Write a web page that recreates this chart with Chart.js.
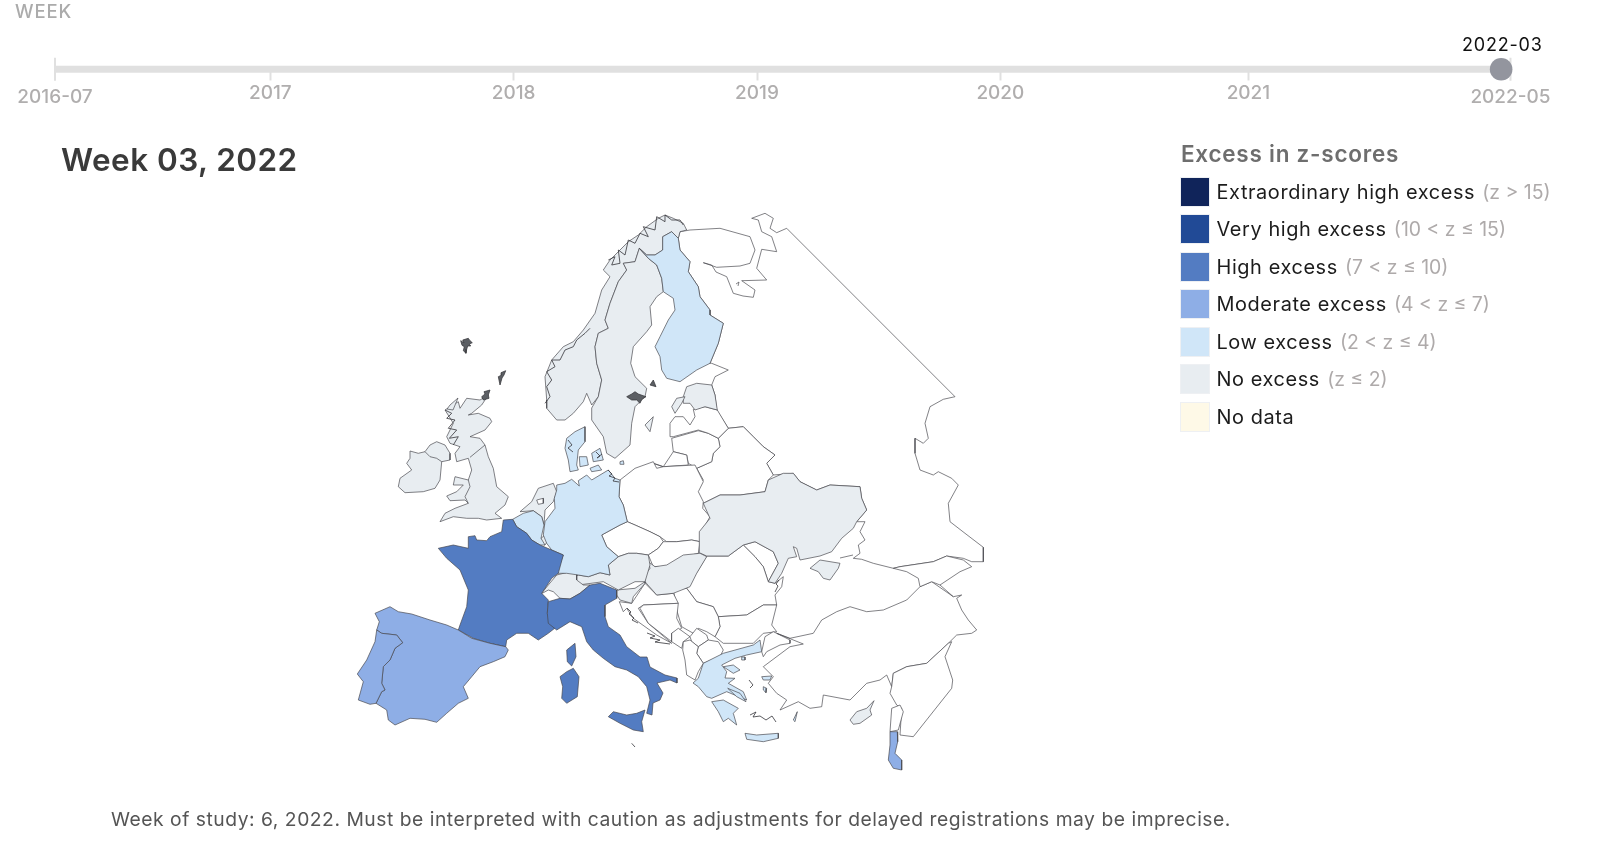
<!DOCTYPE html>
<html><head><meta charset="utf-8">
<script src="https://cdn.jsdelivr.net/npm/chart.js@4"></script>
<style>
html,body{margin:0;padding:0;background:#fff;width:1615px;height:844px;overflow:hidden;font-family:Inter,"Open Sans",sans-serif}
canvas{position:absolute;left:0;top:0}
.t{position:absolute;white-space:nowrap;line-height:1}
#legend .sw{position:absolute;left:1181px;width:28px;height:28px;outline:1px solid #eef0f3}
#legend .tx{position:absolute;left:1216.5px;white-space:nowrap;font-size:19.9px;letter-spacing:.6px;line-height:28px;color:#1c1c1c}
#legend .tx span{color:#aeaaaa;margin-left:1px;letter-spacing:0;font-size:19.4px}
</style></head><body>
<canvas id="slider" width="1615" height="120"></canvas>
<canvas id="map" width="1615" height="844"></canvas>
<div class="t" style="left:15px;top:2px;font-size:18.5px;letter-spacing:.9px;color:#ababab;font-weight:500">WEEK</div>
<div class="t" id="cur" style="left:1462px;top:36px;font-size:18px;letter-spacing:.8px;color:#111">2022-03</div>
<div class="t" id="title" style="left:61px;top:144px;font-size:31.5px;letter-spacing:.45px;font-weight:600;color:#3a3a3a">Week 03, 2022</div>
<div class="t" style="left:1181px;top:143px;font-size:22.5px;letter-spacing:.75px;font-weight:600;color:#6e6e6e" id="lt">Excess in z-scores</div>
<div id="legend"></div>
<div class="t" id="foot" style="left:111px;top:810px;font-size:19.3px;letter-spacing:.52px;color:#555">Week of study: 6, 2022. Must be interpreted with caution as adjustments for delayed registrations may be imprecise.</div>
<script>
/* ---------- slider data (week index since 2016-07) ---------- */
const yearWeeks  = [46, 98, 150, 202, 255];
const yearLabels = ['2017','2018','2019','2020','2021'];
const endWeeks   = [0, 311];
const endLabels  = ['2016-07','2022-05'];
const currentWeek = 309;

/* ---------- legend ---------- */
const legendNames  = ['Extraordinary high excess','Very high excess','High excess','Moderate excess','Low excess','No excess','No data'];
const legendRanges = ['(z > 15)','(10 < z ≤ 15)','(7 < z ≤ 10)','(4 < z ≤ 7)','(2 < z ≤ 4)','(z ≤ 2)',''];
const legendColors = ['#10245a','#214a96','#537cc2','#8eaee6','#d0e6f8','#e8edf1','#fef9e7'];
const legendTops   = [178,215,253,290,327.5,364.5,402.5];

/* ---------- map outlines, projected map units ---------- */
const russia=[[690,230],[720,228.3],[750,236.7],[755,250],[750,263.3],[740,266],[716.7,267.3],[703.3,262.7],[711.7,265],[716,272],[726.7,276.7],[733.3,293.3],[743,296],[753.3,297.3],[755,290],[741.7,280.7],[766.7,280],[756.7,268.3],[761.7,249.3],[776.7,251.7],[771.7,236.7],[761.7,231.7],[758.3,220],[751.7,218.3],[765,213.3],[773.3,218.3],[770,228.3],[776.7,232.7],[786.7,228.3],[955,396.7],[943.3,399.3],[930,406.7],[925,423.3],[928.3,438.3],[923.3,443.3],[915,438.3],[915,453.3],[920,470],[933.3,475],[938.3,471.7],[951.7,478.3],[958.3,485],[948.3,503.3],[950,521.7],[965,533.3],[983.3,547.3],[983.3,561.7],[971.7,561.7],[963.3,558.3],[946.7,556],[933.3,561.7],[900,566.7],[893.3,568.3],[873.3,563.3],[861.7,559.3],[853.3,558.3],[860,553.3],[858.3,545],[865,540],[860,531.7],[865,521.7],[856.7,521.7],[866.7,510],[861.7,498.3],[860,486.7],[830,485],[816.7,490],[800,481.7],[793.3,473.3],[773.3,475],[766.7,463.3],[775,455],[763.3,446.7],[753.3,436.7],[743.3,426.7],[728.3,428.3],[716.7,410],[715,395],[711.7,385],[715,376.7],[728.3,370],[711.7,363.3],[710,363.3],[718.3,343.3],[723.3,323.3],[710,315],[710,310],[700,296.7],[698.3,286.7],[688.3,271.7],[690,261.7],[680,250],[678.3,238.3],[680,231.7]];
const finland=[[639.3,248.3],[646.7,255],[655,255],[662.7,250],[662.7,236.7],[671.7,231.7],[678.3,238.3],[680,250],[690,261.7],[688.3,271.7],[698.3,286.7],[700,296.7],[710,310],[710,315],[723.3,323.3],[718.3,343.3],[710,363.3],[696.7,370],[680,381.7],[666.7,378.3],[661.7,370],[660,356.7],[655,346.7],[660,336.7],[668.3,320],[675,310],[673.3,298.3],[663.3,291.7],[661.7,278.3],[656.7,265],[648.3,258.3]];
const sweden=[[591.7,408],[598.3,396.7],[601.7,380],[596.7,363.3],[595,346.7],[598.3,333.3],[608.3,328.3],[605,320],[610,303.3],[618.3,281.7],[626.7,270],[623.3,263.3],[635,261.7],[639.3,248.3],[648.3,258.3],[656.7,265],[661.7,278.3],[663.3,291.7],[656.7,296.7],[650,306.7],[651.7,325],[646.7,331.7],[633.3,346.7],[630.7,363.3],[635,376.7],[646.7,388.3],[645,396.7],[635,406.7],[631.7,423.3],[630,445],[615,458.3],[606.7,453.3],[603.3,436.7],[591.7,420]];
const norway=[[546.7,408.3],[556.7,420],[565,420],[573.3,413.3],[583.3,401.7],[586.7,393.3],[591.7,405],[598.3,396.7],[601.7,380],[596.7,363.3],[595,346.7],[598.3,333.3],[608.3,328.3],[605,320],[610,303.3],[618.3,281.7],[626.7,270],[623.3,263.3],[635,261.7],[639.3,248.3],[646.7,255],[655,255],[662.7,250],[662.7,236.7],[671.7,231.7],[678.3,238.3],[680,231.7],[686.7,230],[683.3,223.3],[673.3,218.3],[665,215],[658.3,218.3],[646.7,226.7],[638.3,235],[628.3,241.7],[620,250],[610,260],[603.3,270],[610,276.7],[601.7,290],[595,313.3],[583.3,330],[573.3,341.7],[563.3,346.7],[551.7,360],[545,376.7],[546.7,400]];
const gotland=[[645,425],[653.3,416.7],[650,431.7]];
const denmarkJutland=[[566.7,438.3],[575,431.7],[585,426.7],[585,441.7],[578.3,450],[576.7,465],[578.3,470],[570,471.7],[568.3,460],[565,448.3]];
const denmarkZealand=[[591.7,453.3],[600,448.3],[603.3,460],[593.3,461.7]];
const denmarkFunen=[[579.3,456.7],[586.7,456.7],[588.3,465],[580,466.7]];
const denmarkLolland=[[590,468.3],[598.3,465],[601.7,470],[591.7,471.7]];
const bornholm=[[620,461.7],[623.3,460.7],[624,464.3],[620.7,464.3]];
const germany=[[556.7,485],[565,483.3],[571.7,479.3],[579.3,486],[578.3,480.7],[586.7,475],[591.7,480],[600,475],[608.3,470],[615,478.3],[620,480],[619,496.7],[623.3,505],[627.3,521.7],[620,525],[601.7,535],[606.7,546.7],[618.3,556.7],[608.3,565],[610,575],[600,572.7],[588.3,576.7],[578.3,575],[566.7,573.3],[556.7,573.3],[563.3,555],[551.7,550],[546.7,543.3],[543.3,535],[545,521.7],[555,508.3],[554.3,498.3],[556.7,490]];
const france=[[503.3,520],[512.7,519.3],[516.7,526.7],[526.7,533.3],[531.7,540],[540,545],[550,549.3],[563.3,555],[558.3,573.3],[551.7,578.3],[541.7,593.3],[548.3,600],[547.3,613.3],[556.7,626.7],[548.3,633.3],[538.3,640],[528.3,633.3],[516.7,633.3],[506.7,640],[505.7,646.7],[490,643.3],[473.3,638.3],[458.3,630],[460,625],[466.7,606.7],[468.3,590],[460,570],[446.7,558.3],[438.3,548.3],[453.3,545],[468.3,548.3],[468.3,536.7],[475,535.7],[476.7,540],[486.7,540.7],[490,536.7],[501.7,531.7]];
const spain=[[375,613.3],[390,606.7],[398.3,611.7],[411.7,614],[430,620],[446.7,625],[458.3,630],[471.7,638.3],[490,643.3],[505.7,646.7],[508.3,650],[505,656.7],[493.3,661.7],[480,666.7],[471.7,676.7],[463.3,686.7],[468.3,698.3],[458.3,703.3],[446.7,713.3],[436.7,722.3],[425,719.3],[410,718.3],[395,725],[388.3,720],[386.7,710],[376,703.3],[381.7,691.7],[385,690],[381.7,683.3],[383.3,666.7],[390,660],[395,648.3],[402.7,642.7],[396.7,635],[381.7,633.3],[376.7,630],[379.3,621.7]];
const portugal=[[376.7,630],[381.7,633.3],[396.7,635],[402.7,642.7],[395,648.3],[390,660],[383.3,666.7],[381.7,683.3],[385,690],[381.7,691.7],[376,703.3],[370,704.3],[358.3,700],[363.3,681.7],[357.3,674],[366.7,660],[375,641.7]];
const italy=[[548.3,601.7],[560,598.3],[570,599],[580,593.3],[590,585],[600,583.3],[616.7,590],[616.7,598.3],[605,605],[605,616.7],[608.3,626.7],[620,635],[626.7,646.7],[640,657],[647,657],[650,667],[665,675],[677,678],[677,683],[670,680],[657,683],[663,693],[660,700],[653,703],[652,715],[646.7,713.3],[650,700],[646.7,686.7],[638.3,676.7],[626.7,670],[615,666.7],[603.3,658.3],[593.3,650],[586.7,641.7],[581.7,626.7],[570,621.7],[556.7,630],[548.3,623.3],[547.3,613.3]];
const sicily=[[608.3,716.7],[613.3,711.7],[626.7,715],[636.7,713.3],[645,710],[641.7,721.7],[643.3,731.7],[633.3,730],[620,723.3]];
const sardinia=[[560,676.7],[566.7,671.7],[573.3,668.3],[579,676.7],[577.3,696.7],[566.7,703.3],[561.7,698.3],[562.7,686.7]];
const corsica=[[566.7,650],[575,643.3],[576,656.7],[571.7,666],[567.3,661.7]];
const belgium=[[512.7,519.3],[523.3,513.3],[533.3,510.7],[541.7,516.7],[544,525],[541,538.3],[545,545],[540,545],[531.7,540],[526.7,533.3],[516.7,526.7]];
const luxembourg=[[541,538.3],[545,535],[547.3,541.7],[545,545],[541,543.3]];
const netherlands=[[520,511.7],[531.7,501.7],[538.3,488.3],[553.3,483.3],[556.7,491.7],[553.3,501.7],[545,510],[544,525],[541.7,516.7],[533.3,510.7]];
const ijsselmeer=[[536.7,500],[543.3,498.3],[543.3,503.3],[538.3,504.3]];
const britain=[[466.7,398.3],[480,400],[488.3,395],[481.7,405],[471.7,413.3],[468.3,415],[478.3,413.3],[490,418.3],[491.7,421.7],[485,430],[470,436.7],[480,438.3],[485,445],[488.3,456.7],[493.3,468.3],[496.7,486.7],[508.3,496.7],[505,505],[495,513.3],[501.7,518.3],[486.7,520],[478.3,518.3],[466.7,518.3],[453.3,516.7],[440,521.7],[445,513.3],[455,508.3],[468.3,503.3],[465,500],[450,500.7],[446.7,496],[456.7,491.7],[463.3,485],[453.3,485],[455,476.7],[468.3,480],[471.7,470],[468.3,458.3],[456.7,461.7],[455,453.3],[460,446.7],[450,443.3],[446.7,436.7],[453.3,423.3],[445,410],[458.3,401.7],[460,408.3]];
const ireland=[[410,451],[418.3,453.3],[425,451.7],[430,445],[436.7,441.7],[445,445],[450,453.3],[450,460],[441.7,461.7],[440,480],[435,488.3],[423.3,491.7],[405,492.7],[398.3,486.7],[400,478.3],[411.7,470],[406.7,463.3],[410,458.3]];
const hebrides=[[450,405],[458,398],[453,410],[447,409]];
const poland=[[620,480],[635,468.3],[653.3,461.7],[656.7,468.3],[663.3,466.7],[695,465],[703.3,481.7],[698.3,491.7],[703.3,501.7],[702.7,508.3],[710,516.7],[701.7,531.7],[700,541.7],[691.7,540],[676.7,541.7],[666.7,541.7],[660,536.7],[650,531.7],[635,525],[627.3,521.7],[623.3,505],[619,496.7]];
const czechia=[[601.7,535],[620,525],[627.3,521.7],[635,525],[650,531.7],[660,536.7],[663.3,541.7],[658.3,548.3],[648.3,555],[636.7,553.3],[628.3,553.3],[618.3,556.7],[606.7,546.7]];
const slovakia=[[663.3,541.7],[666.7,541.7],[676.7,541.7],[691.7,540],[700,541.7],[698.3,553.3],[685,556.7],[666.7,566.7],[653.3,566.7],[648.3,555],[658.3,548.3]];
const austria=[[618.3,556.7],[628.3,553.3],[636.7,553.3],[648.3,555],[650,565],[645,581.7],[635,581.7],[618.3,590],[603.3,581.7],[578.3,585],[575,576.7],[578.3,575],[588.3,576.7],[600,572.7],[610,575],[608.3,565]];
const switzerland=[[541,594],[548.3,585],[556.7,575],[570,571.7],[576.7,573.3],[576.7,580],[583.3,585],[590,585],[580,593.3],[570,599],[560,598.3],[553.3,591.7],[548.3,590]];
const hungary=[[648.3,561.7],[655,566.7],[666.7,565],[683.3,555],[700,553.3],[706.7,556.7],[696.7,573.3],[690,586.7],[673.3,593.3],[656.7,595],[645,581.7],[645,575],[650,568.3]];
const slovenia=[[616.7,590],[635,588.3],[645,581.7],[645,583.3],[633.3,596.7],[631.7,603.3],[620,600],[616.7,595]];
const ukraine=[[703.3,503.3],[720,495],[740,495],[765,491.7],[768.3,480],[783.3,473.3],[793.3,473.3],[800,481.7],[816.7,490],[830,485],[860,486.7],[861.7,498.3],[866.7,510],[856.7,521.7],[853.3,528.3],[841.7,538.3],[831.7,551.7],[820,556],[800,560],[796.7,548.3],[793.3,546.7],[796.7,556.7],[788.3,558.3],[781.7,573.3],[775,583.3],[768.3,581.7],[778.3,563.3],[773.3,551.7],[755,541.7],[743.3,545],[728.3,556],[706.7,556],[699.3,552.7],[699.3,531.7],[710,518.3]];
const crimea=[[810,568.3],[820,560],[840,563.3],[838.3,568.3],[830,580],[823.3,578.3],[818.3,571.7]];
const moldova=[[743.3,545],[755,541.7],[773.3,551.7],[778.3,563.3],[768.3,581.7],[763.3,566.7],[755,556.7]];
const romania=[[706.7,556],[728.3,556],[743.3,545],[755,556.7],[763.3,566.7],[768.3,581.7],[775,583.3],[783.3,576.7],[781.7,586.7],[775,595],[776.7,605],[763.3,605],[746.7,615],[718.3,616.7],[713.3,606.7],[696.7,601.7],[686.7,588.3],[698.3,570]];
const bulgaria=[[718.3,616.7],[746.7,615],[763.3,605],[776.7,605],[771.7,625],[776.7,631.7],[763.3,633.3],[753.3,643.3],[723.3,643.3],[715,636.7],[720,626.7]];
const serbia=[[673.3,590],[686.7,588.3],[696.7,601.7],[713.3,606.7],[718.3,616.7],[720,626.7],[715,636.7],[706.7,631.7],[698.3,628.3],[693.3,633.3],[681.7,626.7],[676.7,610],[675,598.3]];
const croatia=[[619.3,601.7],[631.7,603.3],[645,583.3],[656.7,595],[673.3,593.3],[678.3,603.3],[643.3,605],[638.3,608.3],[648.3,623.3],[671.7,643.3],[656.7,635],[633.3,618.3],[626.7,608.3],[623.3,611.7]];
const bosnia=[[640,608.3],[643.3,605],[678.3,603.3],[676.7,618.3],[681.7,628.3],[671.7,633.3],[671.7,641.7],[648.3,623.3]];
const montenegro=[[671.7,633.3],[678.3,628.3],[690,636.7],[683.3,641.7],[681.7,648.3],[671.7,641.7]];
const kosovo=[[690,636.7],[696.7,628.3],[706.7,635],[708.3,640],[698.3,646.7],[691.7,641.7]];
const macedonia=[[698.3,646.7],[708.3,640],[718.3,641.7],[723.3,650],[720,656.7],[703.3,663.3],[696.7,653.3]];
const albania=[[683.3,641.7],[690,640],[698.3,646.7],[696.7,653.3],[703.3,663.3],[698.3,671.7],[695,680],[686.7,675],[685,660],[682.7,650]];
const greeceMain=[[698.3,678.3],[703.3,663.3],[723.3,653.3],[753.3,645],[760,640],[761.7,651.7],[746.7,655],[735,658.3],[721.7,665],[726.7,671.7],[725,678],[735,678.3],[728.3,683.3],[743.3,691.7],[746.7,700],[726.7,691.7],[711.7,698.3],[706.7,696.7],[698.3,686.7],[693,683]];
const chalkidiki=[[723.3,666.7],[733.3,665],[740,670],[733.3,673.3],[728.3,670]];
const peloponnese=[[711.7,701.7],[723.3,700],[738.3,708.3],[733.3,713.3],[736.7,725],[728.3,718.3],[723.3,721.7],[718.3,711.7]];
const crete=[[745,733.3],[756.7,735],[778.3,733.3],[778.3,738.3],[763.3,741.7],[746.7,739.3]];
const euboea=[[727.7,688.3],[740,693.3],[746,701.7],[736.7,696.7]];
const lesbos=[[761.7,676.7],[771.7,676],[770,680],[763.3,680]];
const chios=[[763.3,686.7],[766.7,688.3],[766,692.7],[763.3,690]];
const rhodes=[[793.3,720],[797.3,711.7],[795,721.7]];
const thasos=[[741.7,657],[745,657],[745,660],[741.7,660]];
const thrace=[[761.7,651.7],[765,636.7],[773.3,631.7],[776.7,633.3],[790,640],[790,643.3],[780,645],[766.7,651.7],[763.3,656.7]];
const anatolia=[[776.7,633.3],[790,638.3],[813.3,633.3],[821.7,620],[836.7,611.7],[850,606.7],[866.7,611.7],[883.3,610],[906.7,600],[920,586.7],[931.7,581.7],[953.3,596.7],[961.7,595],[956.7,598.3],[961.7,610],[968.3,620],[976.7,630],[971.7,633.3],[956.7,635],[948.3,643.3],[926.7,663.3],[906.7,666.7],[893.3,673.3],[891.7,686.7],[886.7,675],[880,680],[866.7,683.3],[850,700],[823.3,695],[821.7,706.7],[810,708.3],[798.3,701.7],[780,710],[786.7,700],[776.7,693.3],[768.3,683.3],[773.3,676.7],[763.3,666.7],[790,646.7],[803.3,644]];
const estonia=[[683.3,396.7],[686.7,386.7],[696.7,383.3],[711.7,385],[715,395],[717.3,410],[705,406.7],[695,410],[690,403.3],[683.3,403.3]];
const estoniaIsles=[[671.7,406.7],[676.7,398.3],[685,396.7],[681.7,403.3],[675,413.3]];
const latvia=[[670,436.7],[670,423.3],[675,416.7],[683.3,416.7],[690,425],[695,416.7],[693.3,409.3],[705,406.7],[717.3,410],[728.3,428.3],[718.3,438.3],[708.3,433.3],[698.3,430],[673.3,436.7]];
const lithuania=[[671.7,438.3],[698.3,430.7],[708.3,433.3],[718.3,438.3],[720,446.7],[713.3,453.3],[711.7,461.7],[696.7,468.3],[688.3,463.3],[686.7,455],[673.3,451.7]];
const kaliningrad=[[653.3,463.3],[663.3,466.7],[673.3,451.7],[686.7,455],[688.3,465],[663.3,466.7]];
const belarus=[[696.7,468.3],[711.7,461.7],[713.3,453.3],[720,446.7],[718.3,438.3],[728.3,428.3],[743.3,426.7],[753.3,436.7],[763.3,446.7],[775,455],[766.7,463.3],[773.3,475],[768.3,480],[765,491.7],[740,495],[720,495],[703.3,503.3],[696.7,491.7],[703.3,480]];
const syria=[[893.3,673.3],[906.7,666.7],[926.7,663.3],[948.3,643.3],[951.7,641.7],[945,656.7],[952.7,680],[951.7,688.3],[913.3,736.7],[900,735],[901.7,708.3],[896.7,705],[890,693.3],[891.7,686.7]];
const lebanon=[[891.7,708.3],[900,705],[903.3,711.7],[898.3,730],[890,731.7]];
const israel=[[890,731.7],[897.3,731.7],[897.7,741.7],[895,753.3],[901.7,760],[901.7,770],[893.3,768.3],[888.3,760],[890,745]];
const cyprus=[[850,720],[856.7,711.7],[866.7,708.3],[874,700.7],[870,710],[871.7,715],[860,723.3],[853.3,724.3]];
const georgia=[[893.3,568.3],[900,566.7],[933.3,561.7],[946.7,556],[963.3,560],[971.7,566.7],[960,571.7],[940,585],[931.7,581.7],[920,586.7],[918.3,578.3],[906.7,571.7]];
/* small dark archipelagos */
const shetland=[[460.7,340.7],[464,342.7],[462.7,340],[466,339],[468.3,338.3],[470,340.7],[472.3,342.7],[469.3,344],[470.7,346],[467.7,346],[466.7,349.3],[466,353.3],[463.3,350.7],[464.3,346.7],[462,345.3]];
const orkney=[[498.3,376.7],[501.7,375],[501,372.7],[505.7,370.7],[504,375],[502,378],[501,381.7],[500,385]];
const orkneySouth=[[481.7,396.7],[485,394],[484,391.7],[490,390],[488.3,395],[489,398.3],[483.3,400]];
const stockholm=[[626.7,396.7],[631.7,394],[635,391.7],[638.3,394],[646,396.7],[641.7,399.3],[640,403.3],[636.7,400],[631.7,400]];
const aland=[[650,385],[653.3,380],[656,386.7]];
/* jagged coast details */
const scotlandCoast=[[445,410],[451.7,413.3],[446.7,418.3],[455,420],[448.3,428.3],[456.7,430],[449.3,438.3],[458.3,436.7],[453.3,445]];
const niBorder=[[425,451.7],[430,456.7],[436.7,458.3],[441.7,461.7]];
const walesBorder=[[468.3,480],[470,486.7],[465,496.7],[468.3,503.3]];
const scotBorder=[[470,457.3],[485,445]];
const norwayNorth=[[608.3,260],[615,256.7],[611.7,265],[620,263.3],[618.3,250],[625,255],[628.3,240],[635,243.3],[640,233.3],[648.3,236.7],[643.3,226.7],[655,230],[656.7,216.7],[665,221.7],[665,215],[671.7,220],[680,220],[683.3,225]];
const norwayWest=[[545,403.3],[550,396.7],[546.7,386.7],[551.7,380],[546.7,371.7],[555,366.7],[551.7,360],[560,360],[565,350],[573.3,346.7],[576.7,340],[585,333.3],[590,328.3]];
const adriaticNorth=[[627,608],[631,612],[629,614],[634,618],[632,620],[638,623]];
const adriaticSouth=[[647,633],[655,636],[650,638],[660,640],[655,642],[670,644]];
const germanBaltic=[[608,470],[612,474],[609,476],[615,478],[613,481],[619,482]];
const danishIslesWest=[[568,440],[572,445],[568,448],[573,452]];
const danishIslesEast=[[596,452],[600,456],[597,458],[602,454]];
const danube=[[775,592],[778,586],[776,584],[779,580]];
const cyclades=[[749,680],[753,685],[750,688]];
const dodecanese=[[750,715],[756,712],[753,717],[760,716],[766,720],[772,716],[776,722]];
const azovKerch=[[840,558],[853,555]];
const azerbaijan=[[940,585],[953.3,596.7]];
const lampedusa=[[631.7,743.3],[635,747]];
const kolaIsle=[[736,284],[739,282],[738,286]];

/* ---------- which class each outline belongs to (index into legendColors, null = outside study) ---------- */
const L=4, N=5, M=3, H=2;
const shapes=[
 [russia,null],[belarus,null],[lithuania,null],[latvia,null],[kaliningrad,null],[poland,null],[czechia,null],[slovakia,null],
 [moldova,null],[romania,null],[bulgaria,null],[serbia,null],[croatia,null],[bosnia,null],[montenegro,null],[kosovo,null],
 [macedonia,null],[albania,null],[thrace,null],[anatolia,null],[syria,null],[lebanon,null],[georgia,null],
 [ukraine,N],[crimea,N],[estonia,N],[estoniaIsles,N],[hungary,N],[slovenia,N],[austria,N],[switzerland,N],[luxembourg,N],[netherlands,N],
 [britain,N],[ireland,N],[hebrides,N],[norway,N],[sweden,N],[gotland,N],[cyprus,N],
 [finland,L],[germany,L],[belgium,L],[denmarkJutland,L],[denmarkZealand,L],[denmarkFunen,L],[denmarkLolland,L],[bornholm,L],
 [greeceMain,L],[chalkidiki,L],[peloponnese,L],[crete,L],[euboea,L],[lesbos,L],[chios,L],[rhodes,L],[thasos,L],
 [france,H],[italy,H],[sicily,H],[sardinia,H],[corsica,H],
 [spain,M],[portugal,M],[israel,M],
 [ijsselmeer,null]
];
const blobs=[shetland,orkney,orkneySouth,stockholm,aland];
const thinLines=[niBorder,walesBorder,scotBorder,azovKerch,azerbaijan,kolaIsle];
const darkLines=[scotlandCoast,norwayNorth,norwayWest,adriaticNorth,adriaticSouth,germanBaltic,danishIslesWest,danishIslesEast,danube,cyclades,dodecanese,lampedusa];

/* ---------- legend DOM ---------- */
const lg=document.getElementById('legend');
legendNames.forEach((n,i)=>{
  const s=document.createElement('div');s.className='sw';s.style.top=legendTops[i]+'px';s.style.background=legendColors[i];lg.appendChild(s);
  const t=document.createElement('div');t.className='tx';t.style.top=legendTops[i]+'px';t.textContent=n+' ';
  if(legendRanges[i]){const r=document.createElement('span');r.textContent=legendRanges[i];t.appendChild(r);}
  lg.appendChild(t);
});

Chart.defaults.animation=false;
Chart.defaults.font.family='Inter';
const toPts=a=>a.map(p=>({x:p[0],y:p[1]}));
const closed=a=>toPts(a.concat([a[0]]));

/* ---------- map chart ---------- */
const mapCanvas=document.getElementById('map');
const ds=[];
function poly(pts,fill,stroke,w){ds.unshift({data:closed(pts),showLine:true,fill:'shape',backgroundColor:fill,borderColor:stroke,borderWidth:w,pointRadius:0,tension:0,borderJoinStyle:'round',clip:false});}
function openLine(pts,stroke,w){ds.unshift({data:toPts(pts),showLine:true,fill:false,borderColor:stroke,borderWidth:w,pointRadius:0,tension:0,clip:false});}
shapes.forEach(([p,c])=>poly(p,c===null?'#ffffff':legendColors[c],'rgba(70,70,75,0.85)',0.8));
thinLines.forEach(p=>openLine(p,'rgba(70,70,75,0.85)',0.8));
darkLines.forEach(p=>openLine(p,'rgba(55,55,60,0.9)',0.9));
blobs.forEach(p=>poly(p,'#5c5f64','rgba(50,50,55,0.9)',0.8));
new Chart(mapCanvas,{type:'scatter',data:{datasets:ds},options:{
  responsive:false,devicePixelRatio:1,layout:{padding:0,autoPadding:false},
  plugins:{legend:{display:false},tooltip:{enabled:false}},
  scales:{x:{type:'linear',display:false,min:0,max:1615},y:{type:'linear',display:false,min:0,max:844,reverse:true}}
}});

/* ---------- slider chart ---------- */
const trackLevel=69.3, tickLen=11.5;
const sliderCanvas=document.getElementById('slider');
const flat=s=>{s.height=0;s.paddingLeft=0;s.paddingRight=0;s.paddingTop=0;s.paddingBottom=0;};
new Chart(sliderCanvas,{type:'scatter',data:{datasets:[
  {data:[{x:currentWeek,y:trackLevel}],pointRadius:11.3,backgroundColor:'#93959e',borderWidth:0,clip:false},
  {data:[{x:endWeeks[0],y:trackLevel},{x:endWeeks[1],y:trackLevel}],showLine:true,borderColor:'#e0e0e0',borderWidth:7,pointRadius:0,borderCapStyle:'butt'},
  {data:[{x:endWeeks[0],y:trackLevel-11.5},{x:endWeeks[0],y:trackLevel+11.5}],showLine:true,borderColor:'#e0e0e0',borderWidth:2,pointRadius:0},
  {data:[{x:endWeeks[1],y:trackLevel-11.5},{x:endWeeks[1],y:trackLevel+11.5}],showLine:true,borderColor:'#e0e0e0',borderWidth:2,pointRadius:0}
]},options:{
  responsive:false,devicePixelRatio:1,layout:{padding:0,autoPadding:false},
  plugins:{legend:{display:false},tooltip:{enabled:false}},
  scales:{
    y:{type:'linear',display:false,min:0,max:120,reverse:true},
    x:{type:'linear',min:-11.75,max:333.33,position:{y:trackLevel},afterFit:flat,
       afterBuildTicks:s=>{s.ticks=yearWeeks.map(v=>({value:v}));},
       grid:{drawOnChartArea:false,drawTicks:true,tickLength:tickLen,tickWidth:2,tickColor:'#e0e0e0'},border:{display:false},
       ticks:{autoSkip:false,maxRotation:0,padding:1.5,font:{size:19,weight:'500'},color:'#b0aeae',callback:(v)=>yearLabels[yearWeeks.indexOf(v)]}},
    x2:{type:'linear',axis:'x',min:-11.75,max:333.33,position:{y:trackLevel},afterFit:flat,
       afterBuildTicks:s=>{s.ticks=endWeeks.map(v=>({value:v}));},
       grid:{display:false,drawTicks:false},border:{display:false},
       ticks:{autoSkip:false,maxRotation:0,padding:16.5,font:{size:19,weight:'500'},color:'#b0aeae',callback:(v)=>endLabels[endWeeks.indexOf(v)]}}
  }
}});
</script>
</body></html>
